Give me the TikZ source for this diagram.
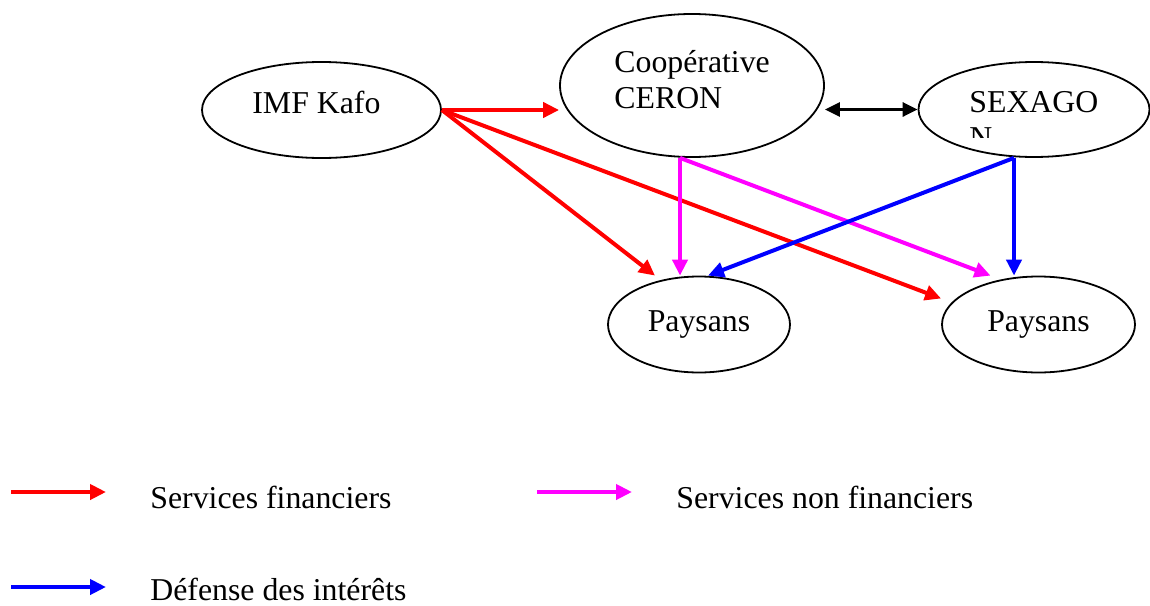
\documentclass[tikz,border=0pt]{standalone}
\usepackage{fontspec}
\setmainfont{Liberation Serif}
\usetikzlibrary{shapes.geometric,arrows.meta,calc}
\definecolor{cred}{RGB}{255,0,0}
\definecolor{cmag}{RGB}{255,0,255}
\definecolor{cblue}{RGB}{0,0,255}
\begin{document}
\begin{tikzpicture}[x=0.5pt,y=-0.5pt,
  ell/.style={draw,ellipse,line width=0.9pt,inner sep=0pt},
  txt/.style={inner sep=0pt,font=\fontsize{15.9}{18}\selectfont},
  lbl/.style={txt,anchor=base west},
  conn/.style={line width=2pt,-{Triangle[length=8pt,width=7.5pt]}},
  fin/.style={conn,cred},
  nonfin/.style={conn,cmag},
  defi/.style={conn,cblue},
  both/.style={line width=1.5pt,{Triangle[length=7.5pt,width=7pt]}-{Triangle[length=7.5pt,width=7pt]}}]
\useasboundingbox (0,0) rectangle (1150,605);

% ellipses
\node[ell,minimum width=119.5pt,minimum height=48pt] (imf) at (321.5,110) {};
\node[ell,minimum width=132pt,minimum height=71.5pt] (ceron) at (692,85.5) {};
\node[ell,minimum width=115.5pt,minimum height=47.5pt] (sex) at (1034,109.5) {};
\node[ell,txt,minimum width=91pt,minimum height=48pt] (p1) at (699,324.5) {Paysans};
\node[ell,txt,minimum width=96.5pt,minimum height=48pt] (p2) at (1038.5,324.5) {Paysans};

% texts
\node[lbl] (timf) at (252,113) {IMF Kafo};
\node[lbl] (tcoop) at (614,72) {Coopérative};
\node[lbl] (tceron) at (614,108) {CERON};
\node[lbl] (tsex) at (969,112) {SEXAGO};
\begin{scope}
  \clip (960,120) rectangle (1010,137);
  \node[lbl] (tsexn) at (969,148) {N};
\end{scope}

% connectors
\coordinate (cs) at ($(ceron.south)+(-12,0)$);
\coordinate (ss) at ($(sex.south)+(-20,0)$);
\draw[fin] (imf.east) -- (imf.east -| ceron.west);
\draw[fin] (imf.east) -- ($(p1.north)+(-44,0)$);
\draw[fin] (imf.east) -- ($(p2.west)+(0,-26)$);
\draw[nonfin] (cs) -- (cs |- p1.north);
\draw[nonfin] (cs) -- ($(p2.north)+(-48,0)$);
\draw[defi] (ss) -- ($(p1.north)+(9,0)$);
\draw[defi] (ss) -- (ss |- p2.north);
\draw[both] (sex.west -| ceron.east) -- (sex.west);

% legend
\coordinate (l1a) at (11,492);
\coordinate (l1b) at (106,492);
\coordinate (l2a) at (537,492);
\coordinate (l2b) at (632,492);
\coordinate (l3a) at (11,587);
\coordinate (l3b) at (106,587);
\draw[fin] (l1a) -- (l1b);
\draw[nonfin] (l2a) -- (l2b);
\draw[defi] (l3a) -- (l3b);
\node[lbl] (leg1) at (150,508) {Services financiers};
\node[lbl] (leg2) at (676,508) {Services non financiers};
\node[lbl] (leg3) at (150,600) {Défense des intérêts};
\end{tikzpicture}
\end{document}
